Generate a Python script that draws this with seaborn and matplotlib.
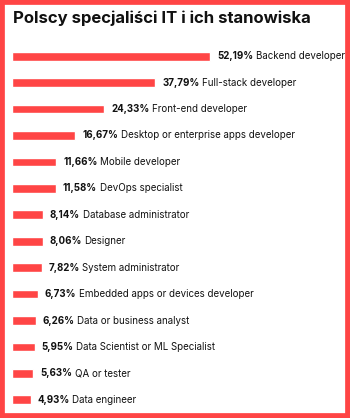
import matplotlib
matplotlib.use("Agg")
import matplotlib.pyplot as plt
import seaborn as sns
import pandas as pd
from matplotlib.patches import Rectangle
from matplotlib.transforms import offset_copy

roles = ['Backend developer', 'Full-stack developer', 'Front-end developer',
         'Desktop or enterprise apps developer', 'Mobile developer', 'DevOps specialist',
         'Database administrator', 'Designer', 'System administrator',
         'Embedded apps or devices developer', 'Data or business analyst',
         'Data Scientist or ML Specialist', 'QA or tester', 'Data engineer']
shares = [52.19, 37.79, 24.33, 16.67, 11.66, 11.58, 8.14, 8.06, 7.82, 6.73, 6.26, 5.95, 5.63, 4.93]

red = '#ff4545'
sns.set_style("white")
plt.rcParams['font.family'] = ['Inter', 'DejaVu Sans']

df = pd.DataFrame({'role': roles, 'share': shares})

fig = plt.figure(figsize=(3.5, 4.18), dpi=100)
ax = fig.add_axes([12 / 350, 1 - 413 / 418, 328 / 350, 370 / 418])
sns.barplot(data=df, y='role', x='share', color=red, saturation=1, width=0.33, ax=ax, orient='h')
ax.set_xlim(0, 328 / 3.794)
ax.set_axis_off()

fig.canvas.draw()
renderer = fig.canvas.get_renderer()
for i, (r, v) in enumerate(zip(roles, shares)):
    t = ax.text(v, i, f'{v:.2f}%'.replace('.', ','), fontsize=7, fontweight='bold',
                va='center', ha='left', color='#111111',
                transform=offset_copy(ax.transData, fig=fig, x=7, y=0, units='dots'))
    w = t.get_window_extent(renderer).width
    ax.text(v, i, r, fontsize=7, va='center', ha='left', color='#111111',
            transform=offset_copy(ax.transData, fig=fig, x=7 + w + 2.5, y=0, units='dots'))

fig.text(13 / 350, 1 - 18 / 418, 'Polscy specjaliści IT i ich stanowiska', fontsize=12,
         fontweight='bold', va='center', ha='left', color='#111111')

fig.patches.append(Rectangle((0, 0), 1, 1, transform=fig.transFigure, fill=False,
                             edgecolor=red, linewidth=7, figure=fig))

fig.savefig('out.png', dpi=100)
